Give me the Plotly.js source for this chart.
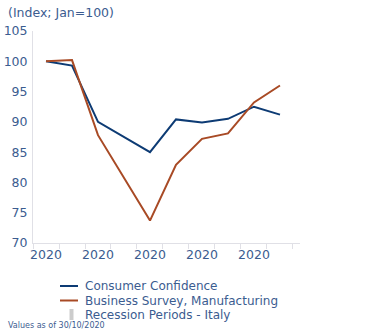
<!DOCTYPE html>
<html>
<head>
<meta charset="utf-8">
<script src="https://cdn.plot.ly/plotly-3.0.1.min.js"></script>
<style>html,body{margin:0;padding:0;background:#fff;}#chart{width:379px;height:336px;}</style>
</head>
<body>
<div id="chart"></div>
<script>
const months = ["Jan","Feb","Mar","Apr","May","Jun","Jul","Aug","Sep","Oct"];
const tickLabels = ["2020","2020","2020","2020","2020"];
const consumerConfidence = [100, 99.3, 90.0, null, 85.0, 90.4, 89.9, 90.5, 92.5, 91.2];
const businessSurvey = [100, 100.2, 87.8, null, 73.7, 82.9, 87.2, 88.1, 93.2, 96.0];
const seriesNames = ["Consumer Confidence", "Business Survey, Manufacturing", "Recession Periods - Italy"];
const seriesColors = ["#0d3b74", "#a84a25", "#cccccc"];

const xs = months.map((m, i) => i);
const txtColor = "#3b5c90";
const font = "DejaVu Sans, sans-serif";

// plot area in pixels: left 33, right 300, top 31, bottom 243
const PL = 33, PR = 300, PT = 31, PB = 243;
const px = v => (v - PL) / (PR - PL);
const py = v => (PB - v) / (PB - PT);

const traces = [
  {x: xs, y: consumerConfidence, name: seriesNames[0], type: "scatter", mode: "lines",
   connectgaps: true, line: {color: seriesColors[0], width: 2}},
  {x: xs, y: businessSurvey, name: seriesNames[1], type: "scatter", mode: "lines",
   connectgaps: true, line: {color: seriesColors[1], width: 2}}
];

const legendRows = [286, 300.5, 315];
const shapes = [
  {type: "line", xref: "paper", yref: "paper", x0: px(60), x1: px(78), y0: py(legendRows[0]), y1: py(legendRows[0]),
   line: {color: seriesColors[0], width: 2}},
  {type: "line", xref: "paper", yref: "paper", x0: px(60), x1: px(78), y0: py(legendRows[1]), y1: py(legendRows[1]),
   line: {color: seriesColors[1], width: 2}},
  {type: "rect", xref: "paper", yref: "paper", x0: px(69.5), x1: px(73.5), y0: py(legendRows[2] + 5), y1: py(legendRows[2] - 6),
   line: {width: 0}, fillcolor: seriesColors[2]}
];

const annotations = seriesNames.map((n, i) => ({
  text: n, xref: "paper", yref: "paper", x: px(84), y: py(legendRows[i]), xanchor: "left", yanchor: "middle",
  showarrow: false, borderpad: 0, font: {size: 12, color: txtColor}
}));
annotations.push(
  {text: "(Index; Jan=100)", xref: "paper", yref: "paper", x: px(6), y: py(13), xanchor: "left", yanchor: "middle",
   showarrow: false, font: {size: 12.5, color: txtColor}},
  {text: "Values as of 30/10/2020", xref: "paper", yref: "paper", x: px(7), y: py(325.5), xanchor: "left", yanchor: "middle",
   showarrow: false, borderpad: 0, font: {size: 8, color: txtColor}}
);

const layout = {
  width: 379, height: 336,
  margin: {l: PL, r: 379 - PR, t: PT, b: 336 - PB, autoexpand: false},
  paper_bgcolor: "#fff", plot_bgcolor: "#fff",
  font: {family: font, color: txtColor, size: 12},
  showlegend: false,
  xaxis: {
    range: [-0.5, 9.77], showgrid: false, zeroline: false,
    showline: true, linecolor: "#e0e0e6", linewidth: 1,
    tickvals: [0, 2, 4, 6, 8], ticktext: tickLabels, ticks: "",
    tickfont: {size: 12.5, color: txtColor},
    minor: {tick0: -0.5, dtick: 1, ticks: "outside", ticklen: 5, tickcolor: "#e0e0e6", showgrid: false}
  },
  yaxis: {
    range: [70, 105], dtick: 5, showgrid: false, zeroline: false,
    showline: true, linecolor: "#e0e0e6", linewidth: 1, ticks: "",
    tickfont: {size: 12.5, color: txtColor}, ticklabelstandoff: 2
  },
  shapes: shapes,
  annotations: annotations
};

Plotly.newPlot("chart", traces, layout, {displayModeBar: false, staticPlot: true});
</script>
</body>
</html>
